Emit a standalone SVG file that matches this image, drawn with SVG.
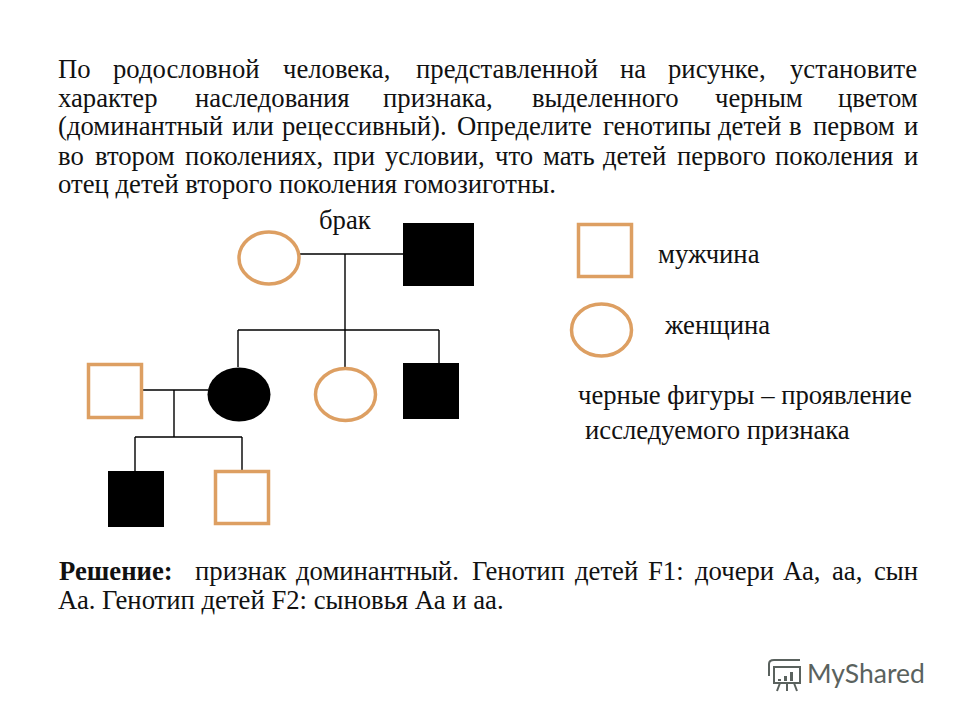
<svg xmlns="http://www.w3.org/2000/svg" width="960" height="720" viewBox="0 0 960 720">
<style>
text{font-family:"Liberation Serif","Times New Roman",serif;font-size:26.7px;fill:#111}
.b{font-weight:bold}
.o{fill:#fff;stroke:#dd9f62;stroke-width:3.5}
.k{fill:#000}
.c{fill:none;stroke:#000;stroke-width:1.4}
.lg{stroke:#5a625e;fill:none;stroke-width:2}
text.lt{font-family:"Lato","Open Sans",sans-serif;font-size:26.500px;fill:#5a625e}
</style>
<rect width="960" height="720" fill="#fff"/>
<g id="question">
<text y="78"><tspan x="58">По</tspan><tspan x="113">родословной</tspan><tspan x="283">человека,</tspan><tspan x="416">представленной</tspan><tspan x="620">на</tspan><tspan x="668">рисунке,</tspan><tspan x="790">установите</tspan></text>
<text y="107"><tspan x="58">характер</tspan><tspan x="195">наследования</tspan><tspan x="383">признака,</tspan><tspan x="532">выделенного</tspan><tspan x="715">черным</tspan><tspan x="838">цветом</tspan></text>
<text y="135"><tspan x="58">(доминантный</tspan><tspan x="232">или</tspan><tspan x="282">рецессивный).</tspan><tspan x="457">Определите</tspan><tspan x="603">генотипы</tspan><tspan x="718">детей</tspan><tspan x="789">в</tspan><tspan x="813">первом</tspan><tspan x="904">и</tspan></text>
<text y="165"><tspan x="58">во</tspan><tspan x="95">втором</tspan><tspan x="185">поколениях,</tspan><tspan x="333">при</tspan><tspan x="385">условии,</tspan><tspan x="495">что</tspan><tspan x="543">мать</tspan><tspan x="603">детей</tspan><tspan x="677">первого</tspan><tspan x="775">поколения</tspan><tspan x="904">и</tspan></text>
<text x="58" y="193">отец детей второго поколения гомозиготны.</text>
</g>
<g id="connectors">
<path class="c" d="M300 254H403M345 254V368M238 330H439M238 330V367M439 330V363M142 390H208M174 390V437M135 437H242M135 437V471M242 437V471"/>
</g>
<g id="label-marriage"><text x="319" y="229">брак</text></g>
<g id="mother"><ellipse class="o" cx="269" cy="258" rx="30" ry="26"/></g>
<g id="father"><rect class="k" x="403" y="223" width="71" height="63"/></g>
<g id="f1-husband"><rect class="o" x="88.500" y="364.500" width="53" height="53"/></g>
<g id="f1-daughter-affected"><ellipse class="k" cx="239" cy="394.500" rx="31.500" ry="27"/></g>
<g id="f1-daughter"><ellipse class="o" cx="345.500" cy="394.500" rx="30" ry="26"/></g>
<g id="f1-son"><rect class="k" x="403" y="363" width="56" height="56"/></g>
<g id="f2-son-affected"><rect class="k" x="108" y="471" width="56" height="56"/></g>
<g id="f2-son"><rect class="o" x="215.500" y="471.500" width="53" height="52"/></g>
<g id="legend">
<rect class="o" x="578.500" y="224.500" width="53" height="52"/>
<ellipse class="o" cx="601.500" cy="330" rx="30" ry="26"/>
<text x="658" y="263">мужчина</text>
<text x="665" y="334">женщина</text>
<text x="578" y="404">черные фигуры – проявление</text>
<text x="585" y="439">исследуемого признака</text>
</g>
<g id="answer">
<text y="580"><tspan x="59" class="b">Решение:</tspan><tspan x="195">признак</tspan><tspan x="296">доминантный.</tspan><tspan x="472">Генотип</tspan><tspan x="575">детей</tspan><tspan x="648">F1:</tspan><tspan x="695">дочери</tspan><tspan x="783">Аа,</tspan><tspan x="832">аа,</tspan><tspan x="874">сын</tspan></text>
<text x="58" y="609">Аа. Генотип детей F2: сыновья Аа и аа.</text>
</g>
<g id="watermark">
<path class="lg" d="M774 660H800M769 664V676M774 660Q769 660 769 664M774 667H800V683H774ZM780 683L777 691M787 683V691M794 683L797 691"/>
<path d="M778 679h3v2h-3zM784 676h3v5h-3zM790 672h3v9h-3z" fill="#5a625e"/>
<text class="lt" x="807" y="683">MyShared</text>
</g>
</svg>
